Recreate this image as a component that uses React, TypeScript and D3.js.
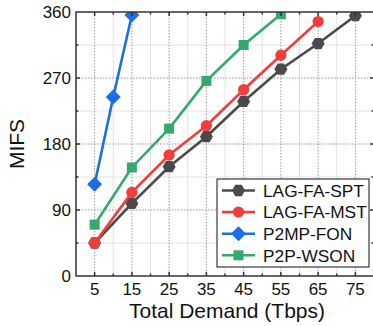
import React, { useEffect, useRef } from "react";
import * as d3 from "d3";

const demand = [5, 15, 25, 35, 45, 55, 65, 75];
const sptValues = [45, 99, 149, 190, 238, 282, 317, 355];
const mstValues = [45, 114, 165, 205, 254, 301, 347];
const fonDemand = [5, 10, 15];
const fonValues = [125, 244, 356];
const wsonValues = [70, 148, 201, 266, 315, 357];
const xTicks = [5, 15, 25, 35, 45, 55, 65, 75];
const yTicks = [0, 90, 180, 270, 360];

const series = [
  { name: "LAG-FA-SPT", color: "#4a4a4a", shape: "hex", x: demand, y: sptValues },
  { name: "LAG-FA-MST", color: "#f23d3d", shape: "circle", x: demand, y: mstValues },
  { name: "P2MP-FON", color: "#1c6ee6", shape: "diamond", x: fonDemand, y: fonValues },
  { name: "P2P-WSON", color: "#35a96a", shape: "square", x: demand, y: wsonValues },
];

const FONT = "'Liberation Sans', Arial, sans-serif";

function markerPath(shape: string): string {
  if (shape === "hex") {
    const r = 6.5;
    const pts = d3.range(6).map((i) => {
      const a = (Math.PI / 3) * i;
      return [r * Math.cos(a), r * Math.sin(a)];
    });
    return "M" + pts.map((p) => p.join(",")).join("L") + "Z";
  }
  if (shape === "circle") return d3.symbol(d3.symbolCircle, 100)() as string;
  if (shape === "diamond") return "M0,-7.5L7.5,0L0,7.5L-7.5,0Z";
  return "M-5,-5L5,-5L5,5L-5,5Z";
}

export default function App() {
  const ref = useRef<SVGSVGElement>(null);

  useEffect(() => {
    const svg = d3.select(ref.current);
    svg.selectAll("*").remove();

    const left = 76, right = 374, top = 12, bottom = 276;
    const x = d3.scaleLinear().domain([0, 80]).range([left, right]);
    const y = d3.scaleLinear().domain([0, 360]).range([bottom, top]);

    svg.append("rect").attr("width", 373).attr("height", 326).attr("fill", "#fff");

    svg.append("defs").append("clipPath").attr("id", "plotclip")
      .append("rect").attr("x", left).attr("y", top).attr("width", right - left).attr("height", bottom - top);

    // grid
    const grid = svg.append("g");
    const minorX = d3.range(10, 80, 10);
    const minorY = [45, 135, 225, 315];
    minorX.forEach((v) => grid.append("line").attr("x1", x(v)).attr("x2", x(v)).attr("y1", top).attr("y2", bottom)
      .attr("stroke", "#e2e2e2").attr("stroke-width", 1));
    minorY.forEach((v) => grid.append("line").attr("x1", left).attr("x2", right).attr("y1", y(v)).attr("y2", y(v))
      .attr("stroke", "#e2e2e2").attr("stroke-width", 1));
    xTicks.forEach((v) => grid.append("line").attr("x1", x(v)).attr("x2", x(v)).attr("y1", top).attr("y2", bottom)
      .attr("stroke", "#999").attr("stroke-width", 1).attr("stroke-dasharray", "1.5,1.5"));
    yTicks.slice(1, -1).forEach((v) => grid.append("line").attr("x1", left).attr("x2", right).attr("y1", y(v)).attr("y2", y(v))
      .attr("stroke", "#999").attr("stroke-width", 1).attr("stroke-dasharray", "1.5,1.5"));

    // series
    const plot = svg.append("g").attr("clip-path", "url(#plotclip)");
    series.forEach((s) => {
      const pts = s.y.map((v, i) => [s.x[i], v] as [number, number]);
      const line = d3.line<[number, number]>().x((d) => x(d[0])).y((d) => y(d[1]));
      plot.append("path").attr("d", line(pts)).attr("fill", "none").attr("stroke", s.color).attr("stroke-width", 2.6);
      plot.selectAll(null).data(pts).join("path")
        .attr("d", markerPath(s.shape))
        .attr("transform", (d) => `translate(${x(d[0])},${y(d[1])})`)
        .attr("fill", s.color);
    });

    // frame and ticks
    const frame = svg.append("g").attr("stroke", "#333").attr("stroke-width", 1.5);
    frame.append("rect").attr("x", left).attr("y", top).attr("width", right - left).attr("height", bottom - top).attr("fill", "none");
    d3.range(5, 80, 5).forEach((v) => {
      const len = v % 10 === 5 ? 4 : 2.5;
      frame.append("line").attr("x1", x(v)).attr("x2", x(v)).attr("y1", bottom).attr("y2", bottom - len);
      frame.append("line").attr("x1", x(v)).attr("x2", x(v)).attr("y1", top).attr("y2", top + len);
    });
    d3.range(45, 360, 45).forEach((v) => {
      const len = v % 90 === 0 ? 4 : 2.5;
      frame.append("line").attr("x1", left).attr("x2", left + len).attr("y1", y(v)).attr("y2", y(v));
      frame.append("line").attr("x1", right).attr("x2", right - len).attr("y1", y(v)).attr("y2", y(v));
    });

    // tick labels
    svg.append("g").selectAll("text").data(xTicks).join("text")
      .attr("x", (d) => x(d)).attr("y", 294.5).attr("text-anchor", "middle")
      .attr("font-family", FONT).attr("font-size", 17).attr("fill", "#111").text((d) => d);
    svg.append("g").selectAll("text").data(yTicks).join("text")
      .attr("x", 71).attr("y", (d) => y(d)).attr("dy", "0.35em").attr("text-anchor", "end")
      .attr("font-family", FONT).attr("font-size", 17).attr("fill", "#111").text((d) => d);

    // axis titles
    svg.append("text").attr("x", 227).attr("y", 318).attr("text-anchor", "middle")
      .attr("font-family", FONT).attr("font-size", 21).attr("fill", "#111").text("Total Demand (Tbps)");
    svg.append("text").attr("transform", `translate(24,${(top + bottom) / 2}) rotate(-90)`).attr("text-anchor", "middle")
      .attr("font-family", FONT).attr("font-size", 21).attr("fill", "#111").text("MIFS");

    // legend
    const lg = svg.append("g");
    lg.append("rect").attr("x", 217).attr("y", 179).attr("width", 152).attr("height", 88)
      .attr("fill", "#fff").attr("stroke", "#111").attr("stroke-width", 1);
    series.forEach((s, i) => {
      const cy = 190.5 + i * 21.6;
      lg.append("line").attr("x1", 222).attr("x2", 255).attr("y1", cy).attr("y2", cy)
        .attr("stroke", s.color).attr("stroke-width", 2.6);
      lg.append("path").attr("d", markerPath(s.shape)).attr("transform", `translate(238.5,${cy})`).attr("fill", s.color);
      lg.append("text").attr("x", 263).attr("y", cy).attr("dy", "0.36em")
        .attr("font-family", FONT).attr("font-size", 17.3).attr("fill", "#111").text(s.name);
    });
  }, []);

  return (
    <svg ref={ref} width={373} height={326} style={{ position: "absolute", left: 0, top: 0 }} />
  );
}
